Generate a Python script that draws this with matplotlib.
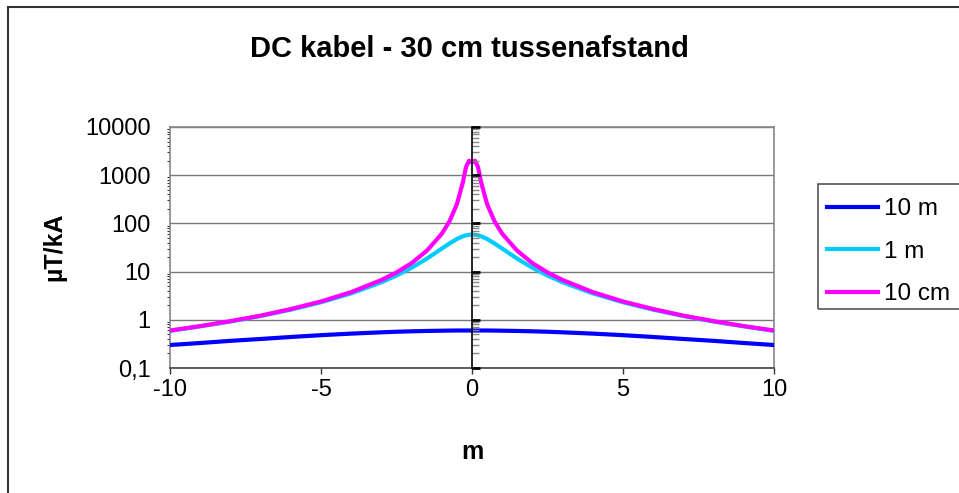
import matplotlib
matplotlib.use("Agg")
import matplotlib.pyplot as plt
from matplotlib.ticker import FixedLocator, FixedFormatter, LogLocator, NullFormatter
from matplotlib.patches import Rectangle
from matplotlib.lines import Line2D

plt.rcParams['font.family'] = ['Liberation Sans', 'DejaVu Sans']

# ---- data ----
x_m = [-10, -9, -8, -7, -6, -5, -4, -3, -2.5, -2, -1.5, -1, -0.75, -0.5, -0.3, -0.2, -0.1,
       0, 0.1, 0.2, 0.3, 0.5, 0.75, 1, 1.5, 2, 2.5, 3, 4, 5, 6, 7, 8, 9, 10]
h_10m = [0.30, 0.33, 0.366, 0.40, 0.44, 0.48, 0.517, 0.55, 0.565, 0.577, 0.587, 0.594, 0.597, 0.60, 0.60, 0.60, 0.60,
         0.60, 0.60, 0.60, 0.60, 0.60, 0.597, 0.594, 0.587, 0.577, 0.565, 0.55, 0.517, 0.48, 0.44, 0.40, 0.366, 0.33, 0.30]
h_1m = [0.59, 0.73, 0.92, 1.20, 1.62, 2.31, 3.53, 6.0, 8.3, 12.0, 18.5, 30, 38.2, 47.5, 54.1, 56.6, 58.1,
        58.7, 58.1, 56.6, 54.1, 47.5, 38.2, 30, 18.5, 12.0, 8.3, 6.0, 3.53, 2.31, 1.62, 1.20, 0.92, 0.73, 0.59]
h_10cm = [0.60, 0.74, 0.94, 1.22, 1.67, 2.4, 3.75, 6.7, 9.6, 15, 27, 61, 109, 251, 722, 1470, 1990,
          1850, 1990, 1470, 722, 251, 109, 61, 27, 15, 9.6, 6.7, 3.75, 2.4, 1.67, 1.22, 0.94, 0.74, 0.60]

series_labels = ["10 m", "1 m", "10 cm"]
series_colors = ["#0000FF", "#00CCFF", "#FF00FF"]

y_ticks = [0.1, 1, 10, 100, 1000, 10000]
y_tick_labels = ["0,1", "1", "10", "100", "1000", "10000"]
x_ticks = [-10, -5, 0, 5, 10]
x_tick_labels = ["-10", "-5", "0", "5", "10"]

title = "DC kabel - 30 cm tussenafstand"
ylabel = "µT/kA"
xlabel = "m"

# ---- figure ----
W, H = 959, 493
fig = plt.figure(figsize=(W / 100, H / 100), dpi=100)

def fx(px):
    return px / W

def fy(py):
    return 1 - py / H

left, right, top, bottom = 170, 774, 127, 368
rect = [fx(left), fy(bottom), (right - left) / W, (bottom - top) / H]
ax = fig.add_axes(rect)
ax.set_yscale('log')
ax.set_xlim(-10, 10)
ax.set_ylim(0.1, 10000)

for vals, lab, col in zip([h_10m, h_1m, h_10cm], series_labels, series_colors):
    ax.plot(x_m, vals, color=col, lw=3, label=lab, solid_joinstyle='round', zorder=3)

ax.yaxis.set_major_locator(FixedLocator(y_ticks))
ax.yaxis.set_major_formatter(FixedFormatter(y_tick_labels))
ax.yaxis.set_minor_locator(FixedLocator([]))
ax.yaxis.set_minor_formatter(NullFormatter())
ax.tick_params(axis='y', which='major', length=0, pad=14, labelsize=17)
ax.set_xticks(x_ticks)
ax.set_xticklabels(x_tick_labels)
ax.tick_params(axis='x', which='major', direction='out', length=4.5, width=1,
               color='#333333', pad=3.5, labelsize=17)
ax.grid(axis='y', which='major', color='#777777', lw=1)
ax.set_axisbelow(True)
for s in ['top', 'right', 'left']:
    ax.spines[s].set_color('#888888')
    ax.spines[s].set_linewidth(1.2)
ax.spines['bottom'].set_color('#444444')
ax.spines['bottom'].set_linewidth(1.2)

# vertical value axis crossing at x = 0
ax2 = fig.add_axes(rect, sharex=ax, sharey=ax)
ax2.patch.set_visible(False)
for s in ['top', 'right', 'bottom']:
    ax2.spines[s].set_visible(False)
ax2.spines['left'].set_position(('data', 0))
ax2.spines['left'].set_color('black')
ax2.spines['left'].set_linewidth(1.2)
ax2.yaxis.set_minor_locator(LogLocator(base=10, subs=range(2, 10)))
ax2.tick_params(axis='y', which='major', direction='in', length=6, width=2,
                color='black', labelleft=False)
ax2.tick_params(axis='y', which='minor', direction='in', length=5, width=1,
                color='#888888', labelleft=False)
ax2.tick_params(axis='x', which='both', length=0, labelbottom=False)
ax2.set_zorder(ax.get_zorder() + 1)

# texts
fig.text(fx(469.5), fy(57), title, ha='center', va='baseline',
         fontsize=21, fontweight='bold')
fig.text(fx(54), fy(247), ylabel, ha='center', va='center', rotation=90,
         fontsize=18, fontweight='bold')
fig.text(fx(472), fy(452), xlabel, ha='center', va='center',
         fontsize=18, fontweight='bold')

# legend
fig.patches.append(Rectangle((fx(818), fy(309)), 1.0, (309 - 184) / H,
                             transform=fig.transFigure, fill=False,
                             edgecolor='#555555', lw=1.2, clip_on=False))
handles = [Line2D([], [], color=c, lw=3) for c in series_colors]
leg = fig.legend(handles, series_labels, loc='upper left',
                 bbox_to_anchor=(fx(827), fy(198)), bbox_transform=fig.transFigure,
                 frameon=False, fontsize=17.5, handlelength=2.1, handletextpad=0.25,
                 labelspacing=0.85, borderaxespad=0, borderpad=0)

# chart border
fig.patches.append(Rectangle((fx(8), -0.2), 1.2, fy(7) + 0.2,
                             transform=fig.transFigure, fill=False,
                             edgecolor='#333333', lw=1.5, clip_on=False))

fig.savefig("out.png", dpi=100)
